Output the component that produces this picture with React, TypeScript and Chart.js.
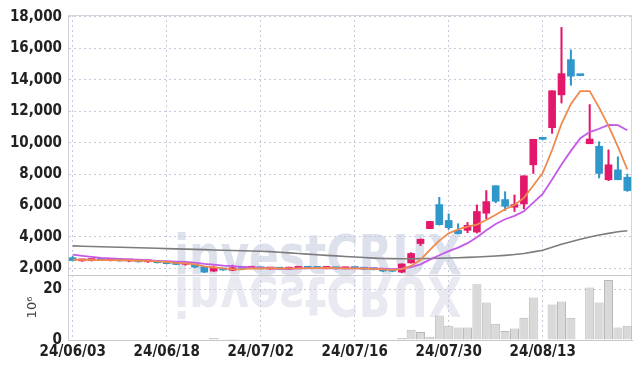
import React, { useEffect, useRef } from 'react';
import { Chart, registerables } from 'chart.js';

Chart.register(...registerables);

const dates = [
  '24/06/03','24/06/04','24/06/05','24/06/07','24/06/10','24/06/11','24/06/12','24/06/13','24/06/14','24/06/17',
  '24/06/18','24/06/19','24/06/20','24/06/21','24/06/24','24/06/25','24/06/26','24/06/27','24/06/28','24/07/01',
  '24/07/02','24/07/03','24/07/04','24/07/05','24/07/08','24/07/09','24/07/10','24/07/11','24/07/12','24/07/15',
  '24/07/16','24/07/17','24/07/18','24/07/19','24/07/22','24/07/23','24/07/24','24/07/25','24/07/26','24/07/29',
  '24/07/30','24/07/31','24/08/01','24/08/02','24/08/05','24/08/06','24/08/07','24/08/08','24/08/09','24/08/12',
  '24/08/13','24/08/14','24/08/16','24/08/19','24/08/20','24/08/21','24/08/22','24/08/23','24/08/26','24/08/27',
];

const opens = [
  2680,2480,2500,2540,2500,2530,2470,2490,2420,2440,
  2360,2300,2260,2260,2100,1830,1950,1880,2030,2010,
  2030,1960,2000,1950,2000,2070,2010,2000,2010,1980,
  2010,1990,1960,1930,1850,1760,2350,3580,4530,6060,
  5050,4420,4420,4310,5510,7260,6380,5890,6100,8590,
  10230,10950,13040,15280,14270,9930,9770,7640,8270,7800,
];
const highs = [
  2760,2560,2560,2570,2560,2560,2520,2510,2480,2460,
  2400,2330,2300,2280,2120,2150,1980,2210,2080,2060,
  2050,2030,2020,2080,2100,2090,2050,2040,2030,2030,
  2050,2010,2000,1950,1900,2300,3000,3880,5000,6520,
  5470,4840,4920,6040,6950,7260,6880,6670,7890,10210,
  10240,13300,17330,15900,14280,12420,10060,9540,9100,8000,
];
const lows = [
  2480,2450,2470,2490,2470,2460,2420,2400,2380,2340,
  2280,2230,2200,2050,1730,1800,1880,1850,1990,1980,
  1960,1940,1930,1940,1990,2000,1980,1970,1960,1970,
  1980,1930,1900,1800,1780,1720,2330,3450,4530,4750,
  4480,4200,4270,4250,5160,6170,5680,5620,5790,8040,
  10200,10590,12520,13650,14250,9930,7750,7580,7640,6900,
];
const closes = [
  2500,2540,2530,2510,2530,2480,2500,2420,2450,2360,
  2300,2250,2280,2080,1760,2000,1900,2040,2010,2030,
  1980,2000,1950,2020,2080,2010,2000,2010,1980,2020,
  1990,1950,1920,1830,1820,2280,2950,3850,4990,4780,
  4590,4210,4740,5620,6250,6270,5950,6060,7890,10210,
  10210,13300,14390,14230,14260,10230,8040,8590,7640,6950,
];

// volume in millions of shares
const volumes = [
  0.2,0.05,0.05,0.05,0.05,0.05,0.05,0.05,0.05,0.05,
  0.05,0.05,0.05,0.05,0.2,0.8,0.05,0.4,0.05,0.05,
  0.05,0.05,0.05,0.05,0.05,0.05,0.05,0.05,0.05,0.05,
  0.05,0.05,0.05,0.05,0.05,0.8,4.1,3.2,1.3,9.7,
  5.6,4.9,4.9,22.0,14.8,6.4,3.6,4.5,8.8,16.8,
  0,14.0,15.2,8.8,0,20.8,14.8,23.7,4.9,5.6,
];

const ma5 = [
  2560,2550,2540,2530,2522,2518,2510,2488,2476,2442,
  2406,2356,2328,2254,2134,2074,2004,1956,1942,1996,
  1992,2012,1994,1996,2006,2012,2012,2024,2016,2004,
  2000,1990,1972,1942,1902,1960,2160,2546,3178,3770,
  4232,4484,4662,4788,5082,5418,5766,6030,6484,7276,
  8064,9534,11200,12468,13278,13282,12230,11070,9752,8290,
];
const ma10 = [
  2880,2800,2730,2670,2630,2600,2575,2550,2520,2482,
  2462,2433,2408,2365,2288,2240,2180,2142,2098,2065,
  2033,2008,1975,1969,2001,2002,2012,2009,2006,2005,
  2006,2001,1998,1979,1953,1980,2075,2259,2560,2836,
  3096,3322,3604,3983,4426,4825,5125,5346,5636,6179,
  6741,7650,8615,9476,10277,10673,10882,11135,11110,10784,
];
const ma60 = [
  3430,3413,3396,3379,3362,3345,3328,3311,3294,3277,
  3260,3243,3226,3209,3192,3175,3158,3140,3122,3104,
  3087,3070,3030,2990,2950,2910,2870,2830,2795,2760,
  2725,2690,2655,2630,2620,2615,2615,2620,2630,2645,
  2660,2680,2700,2725,2755,2790,2830,2880,2950,3050,
  3160,3340,3530,3700,3860,4000,4120,4230,4330,4400,
];

const priceTicks = [2000, 4000, 6000, 8000, 10000, 12000, 14000, 16000, 18000];
const volumeTicks = [0, 20];

const UP = '#e3186a';
const DOWN = '#2f97c9';
const FONT = "'Liberation Sans Narrow', 'DejaVu Sans Condensed', sans-serif";
const GRID = '#c6cadb';
const candleColors = opens.map((o, i) => (closes[i] >= o ? UP : DOWN));

const watermark = {
  id: 'watermark',
  beforeDraw(chart: any) {
    const ctx = chart.ctx;
    const y = chart.scales.y;
    const base = y.bottom - 1;
    const text = 'investCRUX';
    ctx.save();
    ctx.font = "bold 56px 'DejaVu Sans'";
    const w = ctx.measureText(text).width;
    const targetW = 288;
    const sx = targetW / w;
    const left = 318 - targetW / 2;
    ctx.textBaseline = 'alphabetic';
    ctx.fillStyle = '#dde1ec';
    ctx.save();
    ctx.translate(left, base);
    ctx.scale(sx, 1);
    ctx.fillText(text, 0, 0);
    ctx.restore();
    ctx.fillStyle = '#e9eaf1';
    ctx.save();
    ctx.translate(left, base + 3);
    ctx.scale(sx, -1);
    ctx.fillText(text, 0, 0);
    ctx.restore();
    ctx.restore();
  },
};

const paneBorders = {
  id: 'paneBorders',
  beforeDatasetsDraw(chart: any) {
    const ctx = chart.ctx;
    const { left, right, top, bottom } = chart.chartArea;
    const sep = chart.scales.y.bottom;
    ctx.save();
    ctx.lineWidth = 1;
    ctx.strokeStyle = '#d2d5de';
    ctx.beginPath();
    ctx.moveTo(left, top + 0.5);
    ctx.lineTo(right - 0.5, top + 0.5);
    ctx.lineTo(right - 0.5, bottom);
    ctx.stroke();
    ctx.strokeStyle = '#c9c9cc';
    ctx.beginPath();
    ctx.moveTo(left, Math.round(sep) + 0.5);
    ctx.lineTo(right, Math.round(sep) + 0.5);
    ctx.stroke();
    ctx.restore();
  },
};

export default function App() {
  const ref = useRef<HTMLCanvasElement>(null);
  useEffect(() => {
    document.body.style.margin = '0';
    const tickFont = { family: FONT, size: 15, weight: 'bold' as const };
    const chart = new Chart(ref.current as HTMLCanvasElement, {
      type: 'bar',
      data: {
        labels: dates,
        datasets: [
          {
            type: 'line', label: 'MA5', data: ma5, yAxisID: 'y',
            borderColor: '#ef8a4e', borderWidth: 1.8, pointRadius: 0, tension: 0, order: 1,
          } as any,
          {
            type: 'line', label: 'MA10', data: ma10, yAxisID: 'y',
            borderColor: '#c65ae8', borderWidth: 1.8, pointRadius: 0, tension: 0, order: 1,
          } as any,
          {
            type: 'line', label: 'MA60', data: ma60, yAxisID: 'y',
            borderColor: '#7c7c7c', borderWidth: 1.6, pointRadius: 0, tension: 0, order: 1,
          } as any,
          {
            type: 'bar', label: 'body', yAxisID: 'y',
            data: opens.map((o, i) => [o, closes[i]]),
            backgroundColor: candleColors, borderWidth: 0,
            barThickness: 7, grouped: false, minBarLength: 2, order: 2,
          } as any,
          {
            type: 'bar', label: 'wick', yAxisID: 'y',
            data: lows.map((l, i) => [l, highs[i]]),
            backgroundColor: candleColors, borderWidth: 0,
            barThickness: 1.4, grouped: false, order: 3,
          } as any,
          {
            type: 'bar', label: 'volume', yAxisID: 'y2', data: volumes,
            backgroundColor: '#d9d9d9', borderColor: '#b9b9b9', borderWidth: 1,
            barPercentage: 0.96, categoryPercentage: 1, grouped: false, order: 4,
          } as any,
        ],
      },
      options: {
        responsive: false,
        animation: false,
        devicePixelRatio: 1,
        layout: { padding: { top: 13, right: 10, left: 0, bottom: 0 } },
        plugins: { legend: { display: false }, tooltip: { enabled: false } },
        scales: {
          x: {
            type: 'category',
            offset: true,
            grid: {
              offset: false,
              drawTicks: false,
              color: (c: any) => (c.index % 10 === 0 ? GRID : 'rgba(0,0,0,0)'),
            },
            border: { color: '#c9c9cc', dash: [2, 3] },
            ticks: {
              autoSkip: false, maxRotation: 0, minRotation: 0, padding: 3,
              color: '#222', font: tickFont,
              callback: (_v: any, i: number) => (i % 10 === 0 ? dates[i] : ''),
            },
            afterFit: (s: any) => { s.height = 29; },
          },
          y2: {
            type: 'linear', position: 'left', stack: 'pane', stackWeight: 1,
            min: 0, max: 25.7,
            afterBuildTicks: (s: any) => { s.ticks = volumeTicks.map((v) => ({ value: v })); },
            grid: { color: GRID, drawTicks: false },
            border: { color: '#cdd0da', dash: [2, 3] },
            ticks: { autoSkip: false, padding: 6, color: '#222', font: tickFont, callback: (v: any) => String(v) },
            title: {
              display: true, text: '10⁶', color: '#444',
              font: { family: "'DejaVu Sans'", size: 13 },
              padding: { top: 25, bottom: 0 },
            },
            afterFit: (s: any) => { s.width = 68; },
          },
          y: {
            type: 'linear', position: 'left', stack: 'pane', stackWeight: 4,
            min: 1580, max: 18120,
            afterBuildTicks: (s: any) => { s.ticks = priceTicks.map((v) => ({ value: v })); },
            grid: { color: GRID, drawTicks: false },
            border: { color: '#cdd0da', dash: [2, 3] },
            ticks: {
              autoSkip: false, padding: 6, color: '#222', font: tickFont,
              callback: (v: any) => Number(v).toLocaleString('en-US'),
            },
            afterFit: (s: any) => { s.width = 68; },
          },
        },
      } as any,
      plugins: [watermark, paneBorders],
    });
    return () => chart.destroy();
  }, []);
  return (
    <div style={{ width: 642, height: 369, position: 'relative' }}>
      <canvas ref={ref} width={642} height={369} style={{ display: 'block' }} />
    </div>
  );
}
